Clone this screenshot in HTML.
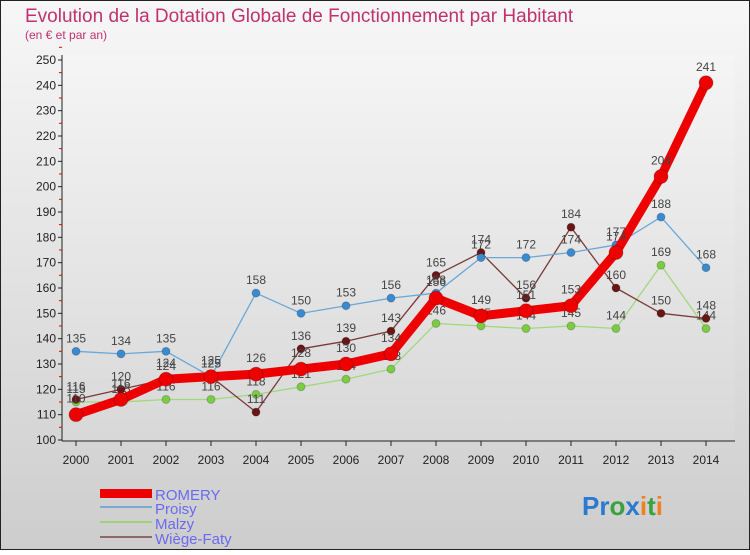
<!DOCTYPE html>
<html><head><meta charset="utf-8"><style>
html,body{margin:0;padding:0}
body{width:750px;height:550px;overflow:hidden;font-family:"Liberation Sans","DejaVu Sans",sans-serif}
</style></head><body>
<svg id="chart" width="750" height="550" xmlns="http://www.w3.org/2000/svg">
<defs>
<linearGradient id="bg" x1="0" y1="0" x2="0" y2="1"><stop offset="0" stop-color="#f7f7f7"/><stop offset="1" stop-color="#cdcdcd"/></linearGradient>
<linearGradient id="pbg" x1="0" y1="0" x2="0" y2="1"><stop offset="0" stop-color="#f5f5f5"/><stop offset="1" stop-color="#d8d8d8"/></linearGradient>
</defs>
<rect x="0.5" y="0.5" width="749" height="549" fill="url(#bg)" stroke="#222"/>
<text x="25" y="22" font-size="19" fill="#c0326e">Evolution de la Dotation Globale de Fonctionnement par Habitant</text>
<text x="25" y="39" font-size="12" fill="#c0326e">(en € et par an)</text>
<g id="axes"></g>
<g id="series"></g>
<g>
<rect x="100" y="489" width="52" height="9" fill="#ee0000"/>
<text x="155" y="500" font-size="15" fill="#6a6aee">ROMERY</text>
<rect x="100" y="506" width="52" height="2" fill="#7aaad0"/>
<text x="155" y="514" font-size="15" fill="#6a6aee">Proisy</text>
<rect x="100" y="521" width="52" height="2" fill="#9fd07a"/>
<text x="155" y="529" font-size="15" fill="#6a6aee">Malzy</text>
<rect x="100" y="536" width="52" height="2" fill="#906868"/>
<text x="155" y="544" font-size="15" fill="#6a6aee">Wiège-Faty</text>
</g>
<text x="582" y="515" font-size="26" font-weight="bold"><tspan fill="#2a7ad0">Pr</tspan><tspan fill="#3aa040">o</tspan><tspan fill="#2a7ad0">x</tspan><tspan fill="#f08020">i</tspan><tspan fill="#3aa040">t</tspan><tspan fill="#f08020">i</tspan></text>
</svg>
<script>
const years=["2000","2001","2002","2003","2004","2005","2006","2007","2008","2009","2010","2011","2012","2013","2014"];
const yTicks=[100,110,120,130,140,150,160,170,180,190,200,210,220,230,240,250];
const romery=[110,116,124,125,126,128,130,134,156,149,151,153,174,204,241];
const proisy=[135,134,135,125,158,150,153,156,158,172,172,174,177,188,168];
const malzy=[115,115,116,116,118,121,124,128,146,145,144,145,144,169,144];
const wiege=[116,120,124,125,111,136,139,143,165,174,156,184,160,150,148];
const NS="http://www.w3.org/2000/svg";
const x0=76,dx=45,yBase=440,yPer=(440-60)/150;
const X=i=>x0+i*dx, Y=v=>yBase-(v-100)*yPer;
function mk(t,a,p){const e=document.createElementNS(NS,t);for(const k in a)e.setAttribute(k,a[k]);p.appendChild(e);return e;}
const ax=document.getElementById('axes');
const pb=mk('rect',{x:63,y:55,width:672,height:385,fill:'url(#pbg)'},ax);


const yl=mk('line',{x1:62,y1:55,x2:62,y2:441,stroke:'#222'},ax);


const xl=mk('line',{x1:62,y1:441,x2:735,y2:441,stroke:'#222'},ax);


yTicks.forEach(v=>{const y=Y(v);
 mk('line',{x1:58,y1:y,x2:62,y2:y,stroke:'#222'},ax);
 mk('line',{x1:59,y1:y-12.7,x2:62,y2:y-12.7,stroke:'#e00'},ax);
 const t=mk('text',{x:56,y:y+4,'font-size':12,'text-anchor':'end',fill:'#222'},ax);t.textContent=v;
 
 });
years.forEach((yr,i)=>{mk('line',{x1:X(i),y1:441,x2:X(i),y2:446,stroke:'#222'},ax);
 const t=mk('text',{x:X(i),y:464,'font-size':12,'text-anchor':'middle',fill:'#222'},ax);t.textContent=yr;
 
 });
const sg=document.getElementById('series');
function series(name,data,color,w,r,dot){
 const g=mk('g',{},sg);
 
 
 mk('polyline',{points:data.map((v,i)=>X(i)+','+Y(v)).join(' '),fill:'none',stroke:color,'stroke-width':w,'stroke-linejoin':'round'},g);
 data.forEach((v,i)=>{const c=mk('circle',{cx:X(i),cy:Y(v),r:r,fill:dot,stroke:'rgba(0,0,0,0.2)'},g);
  
  
  const t=mk('text',{x:X(i),y:Y(v)-9-(r>5?3:0),'font-size':12,'text-anchor':'middle',fill:'#444'},g);t.textContent=v;
  
  });
}
series('malzy',malzy,'#9fd97a',1.3,4,'#7acc40');
series('wiege-faty',wiege,'#7a3a3a',1.3,4,'#6a1515');
series('proisy',proisy,'#6aa8d8',1.3,4,'#3a8ad0');
series('romery',romery,'#ee0000',9,7,'#ee0000');
</script>
</body></html>
